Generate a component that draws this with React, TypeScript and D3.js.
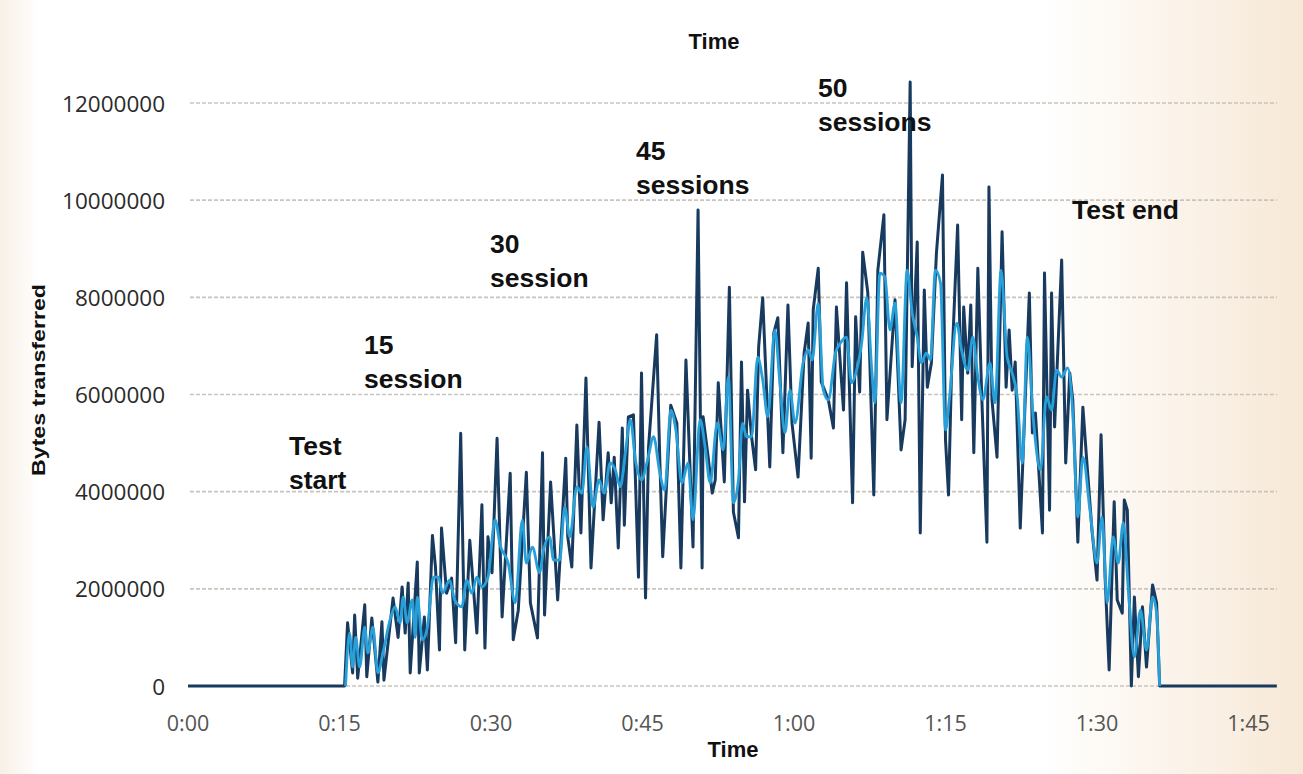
import React from "react";
import * as d3 from "d3";

// Time in minutes, values in millions of bytes
const darkTime = [0, 15.5, 15.8, 16.3, 16.5, 16.8, 17.5, 17.7, 18.2, 18.8, 19.2, 19.4, 20.3, 20.8, 21.2, 21.5, 21.8, 22.0, 22.7, 22.9, 23.4, 23.7, 24.2, 24.5, 24.9, 25.1, 25.6, 26.1, 26.5, 27.0, 27.4, 27.9, 28.6, 29.1, 29.4, 29.7, 30.1, 30.6, 31.1, 31.9, 32.2, 32.7, 33.5, 33.9, 34.6, 35.1, 35.3, 35.9, 36.6, 37.4, 37.6, 38.0, 38.5, 38.9, 39.4, 39.9, 40.7, 41.1, 41.6, 41.9, 42.2, 42.6, 43.0, 43.2, 43.6, 44.1, 44.6, 44.9, 45.3, 45.6, 46.4, 46.7, 47.0, 47.8, 48.4, 48.8, 49.3, 50.0, 50.5, 50.9, 51.0, 51.5, 51.9, 52.2, 52.5, 53.1, 53.6, 54.0, 54.5, 54.8, 55.1, 55.4, 55.8, 56.2, 56.5, 56.9, 57.6, 58.0, 58.4, 58.9, 59.4, 59.8, 60.4, 61.0, 61.4, 61.7, 61.9, 62.4, 62.7, 63.4, 63.9, 64.2, 64.9, 65.2, 65.8, 66.1, 66.5, 66.8, 67.3, 67.9, 68.3, 68.9, 69.2, 70.0, 70.6, 71.0, 71.5, 71.7, 72.2, 72.5, 72.9, 73.2, 73.6, 74.1, 74.7, 75.0, 75.3, 75.6, 76.2, 76.6, 76.8, 77.2, 77.5, 77.8, 78.2, 78.6, 79.1, 79.3, 79.6, 80.1, 80.6, 81.0, 81.3, 81.6, 81.9, 82.4, 83.3, 83.6, 83.9, 84.6, 84.8, 85.3, 85.5, 85.8, 86.5, 86.9, 87.3, 87.6, 88.1, 88.6, 89.0, 89.5, 90.0, 90.4, 90.8, 91.2, 91.7, 92.0, 92.5, 92.7, 93.0, 93.4, 93.7, 94.1, 94.5, 94.9, 95.5, 95.9, 96.2, 107.8];
const darkMillions = [0, 0, 1.3, 0.27, 1.46, 0.16, 1.67, 0.19, 1.4, 0.08, 1.32, 0.12, 1.81, 1.0, 2.04, 1.09, 2.12, 0.27, 2.55, 0.27, 1.42, 0.33, 3.1, 2.45, 0.74, 3.25, 1.91, 2.22, 0.89, 5.2, 0.74, 3.0, 1.09, 3.73, 0.78, 3.07, 2.33, 5.1, 1.42, 4.38, 0.95, 1.56, 4.4, 1.71, 0.99, 4.8, 1.46, 4.2, 1.77, 4.69, 3.07, 2.45, 5.37, 3.15, 6.34, 2.43, 5.43, 3.42, 4.8, 3.77, 4.71, 2.84, 5.31, 3.31, 5.54, 5.58, 2.24, 6.44, 1.81, 4.92, 7.23, 4.75, 2.66, 5.78, 5.41, 2.43, 6.71, 2.86, 9.8, 2.43, 5.54, 4.71, 3.97, 4.24, 6.24, 4.2, 8.21, 3.58, 3.05, 6.67, 3.79, 6.09, 5.13, 4.45, 6.98, 7.99, 4.51, 7.27, 7.58, 4.8, 7.84, 5.41, 4.3, 6.85, 7.47, 4.69, 7.74, 8.6, 6.26, 5.89, 5.31, 7.8, 5.68, 8.3, 3.77, 7.6, 6.05, 8.93, 8.11, 3.93, 8.56, 9.7, 5.48, 7.95, 4.86, 5.48, 12.43, 6.57, 9.14, 3.15, 8.15, 6.15, 6.65, 8.91, 10.52, 5.06, 3.93, 6.5, 9.49, 5.48, 7.8, 6.44, 7.84, 4.8, 8.6, 5.89, 2.96, 10.27, 5.89, 4.71, 9.35, 6.15, 7.33, 6.09, 6.67, 3.25, 8.09, 5.21, 5.62, 3.15, 8.5, 3.62, 8.09, 5.33, 8.77, 4.59, 6.44, 5.89, 2.96, 5.74, 4.59, 3.21, 2.18, 5.17, 2.24, 0.33, 3.79, 1.77, 1.5, 3.83, 3.62, 0, 1.83, 0.19, 1.63, 0.39, 2.08, 1.71, 0, 0];

const lightTime = [15.6, 16.0, 16.3, 16.6, 17.0, 17.5, 17.8, 18.3, 18.8, 19.3, 20.0, 20.5, 21.0, 21.3, 21.7, 22.2, 22.5, 22.7, 23.2, 23.7, 24.3, 24.8, 25.2, 25.9, 26.4, 27.1, 27.6, 28.1, 28.6, 29.1, 29.7, 30.4, 30.9, 31.7, 32.4, 33.1, 33.5, 34.1, 34.8, 35.2, 35.8, 36.2, 36.8, 37.3, 37.8, 38.5, 39.0, 39.5, 40.1, 40.7, 41.2, 41.8, 42.3, 42.8, 43.3, 43.8, 44.3, 44.9, 45.5, 46.1, 46.7, 47.2, 47.8, 48.3, 48.9, 49.5, 50.0, 50.7, 51.2, 51.7, 52.4, 53.0, 53.5, 54.0, 54.5, 54.9, 55.3, 55.8, 56.4, 56.9, 57.4, 58.1, 58.6, 59.1, 59.6, 60.1, 60.9, 61.4, 61.8, 62.4, 62.9, 63.4, 64.1, 64.6, 65.2, 65.7, 66.2, 66.7, 67.2, 67.7, 68.0, 68.5, 69.0, 69.5, 70.0, 70.6, 71.2, 71.7, 72.2, 72.6, 73.1, 73.5, 74.0, 74.5, 75.0, 75.4, 76.1, 76.6, 77.2, 77.7, 78.2, 78.7, 79.4, 79.9, 80.5, 81.1, 81.6, 82.1, 82.6, 83.1, 83.7, 84.4, 85.0, 85.5, 86.0, 86.5, 87.1, 87.6, 88.1, 88.6, 89.3, 90.0, 90.5, 91.0, 91.6, 92.1, 92.6, 93.1, 93.7, 94.3, 94.9, 95.5, 95.9, 96.2];
const lightMillions = [0, 1.09, 0.39, 1.0, 0.39, 1.21, 0.68, 1.21, 0.27, 0.68, 1.36, 1.63, 1.3, 1.83, 1.3, 1.77, 1.0, 1.83, 0.95, 1.21, 2.24, 2.24, 1.91, 2.18, 1.77, 1.63, 2.18, 1.91, 2.24, 2.04, 2.24, 3.42, 2.9, 2.53, 1.71, 3.42, 2.53, 2.86, 2.33, 2.8, 3.07, 2.59, 2.59, 3.68, 3.07, 4.1, 3.97, 4.92, 3.68, 4.24, 3.97, 4.59, 4.45, 4.1, 4.8, 5.48, 4.65, 4.24, 4.65, 5.13, 4.4, 4.03, 5.68, 5.27, 4.18, 4.59, 3.42, 5.48, 4.92, 4.18, 5.41, 4.86, 6.36, 3.77, 4.24, 5.41, 5.13, 5.13, 6.77, 6.3, 5.54, 7.33, 6.24, 5.21, 6.09, 5.41, 6.65, 6.92, 6.71, 7.88, 6.09, 5.89, 6.85, 7.06, 7.18, 6.24, 6.5, 7.06, 8.0, 6.5, 5.83, 8.5, 8.42, 7.33, 7.88, 5.83, 8.56, 7.68, 7.18, 6.65, 6.85, 6.71, 8.56, 8.3, 5.27, 5.95, 7.47, 6.9, 6.5, 7.18, 6.36, 5.89, 6.65, 5.83, 8.56, 6.77, 6.44, 5.95, 4.59, 7.18, 5.48, 4.45, 5.95, 5.68, 6.5, 6.36, 6.55, 5.62, 3.48, 4.71, 3.62, 2.53, 3.48, 1.71, 3.07, 2.53, 3.36, 1.98, 0.6, 1.56, 0.74, 1.83, 1.5, 0];

const yTicks = [0, 2000000, 4000000, 6000000, 8000000, 10000000, 12000000];
const xTicks = [0, 15, 30, 45, 60, 75, 90, 105];
const xTickLabels = ["0:00", "0:15", "0:30", "0:45", "1:00", "1:15", "1:30", "1:45"];

const annotations = [
  { lines: ["Test", "start"], x: 289, y: 455 },
  { lines: ["15", "session"], x: 364, y: 354 },
  { lines: ["30", "session"], x: 490, y: 253 },
  { lines: ["45", "sessions"], x: 636, y: 160 },
  { lines: ["50", "sessions"], x: 818, y: 97 },
  { lines: ["Test end"], x: 1072, y: 219 },
];

export default function App() {
  const W = 1303, H = 774;
  const x = d3.scaleLinear().domain([0, 107.8]).range([188, 1276.8]);
  const y = d3.scaleLinear().domain([0, 12000000]).range([686, 103]);

  const dark = darkTime.map((t, i) => [t, darkMillions[i] * 1e6] as [number, number]);
  const light = lightTime.map((t, i) => [t, lightMillions[i] * 1e6] as [number, number]);

  const lineDark = d3.line<[number, number]>().x(d => x(d[0])).y(d => y(d[1])).curve(d3.curveLinear);
  const lineLight = d3.line<[number, number]>().x(d => x(d[0])).y(d => y(d[1])).curve(d3.curveMonotoneX);

  const tickFont = "'Open Sans', 'DejaVu Sans', sans-serif";
  const boldFont = "'Liberation Sans', Arial, sans-serif";

  return (
    <svg width={W} height={H} style={{ position: "fixed", left: 0, top: 0 }}>
      <defs>
        <linearGradient id="bg" x1="0" y1="0" x2="1" y2="0">
          <stop offset="0" stopColor="#f7f0e6" />
          <stop offset="0.03" stopColor="#ffffff" />
          <stop offset="0.8" stopColor="#ffffff" />
          <stop offset="1" stopColor="#f7e8d6" />
        </linearGradient>
      </defs>
      <rect x={0} y={0} width={W} height={H} fill="url(#bg)" />

      {yTicks.map(t => (
        <g key={t}>
          <line x1={190} x2={1277} y1={y(t)} y2={y(t)} stroke="#c9c4bc" strokeWidth={1.6} strokeDasharray="4 2" />
          <text x={165} y={y(t)} textAnchor="end" dominantBaseline="central" fontFamily={tickFont} fontSize={22.5} fill="#2a2a2a">
            {String(t)}
          </text>
        </g>
      ))}

      {xTicks.map((t, i) => (
        <text key={t} x={x(t)} y={722} textAnchor="middle" dominantBaseline="central" fontFamily={tickFont} fontSize={21.5} fill="#555">
          {xTickLabels[i]}
        </text>
      ))}

      <path d={lineDark(dark) || ""} fill="none" stroke="#173a5e" strokeWidth={3} strokeLinejoin="round" />
      <path d={lineLight(light) || ""} fill="none" stroke="#27a0da" strokeWidth={2.8} strokeLinejoin="round" />

      <text x={714} y={49} textAnchor="middle" fontFamily={boldFont} fontWeight="bold" fontSize={22} fill="#111">Time</text>
      <text x={733} y={757} textAnchor="middle" fontFamily={boldFont} fontWeight="bold" fontSize={22} fill="#111">Time</text>
      <text transform="translate(45,380) rotate(-90)" textAnchor="middle" fontFamily={boldFont} fontWeight="bold" fontSize={19} fill="#111" textLength={192} lengthAdjust="spacingAndGlyphs">Bytes transferred</text>

      {annotations.map((a, i) => (
        <text key={i} x={a.x} y={a.y} fontFamily={boldFont} fontWeight="bold" fontSize={26.5} fill="#111">
          {a.lines.map((l, j) => (
            <tspan key={j} x={a.x} dy={j === 0 ? 0 : 34}>{l}</tspan>
          ))}
        </text>
      ))}
    </svg>
  );
}
